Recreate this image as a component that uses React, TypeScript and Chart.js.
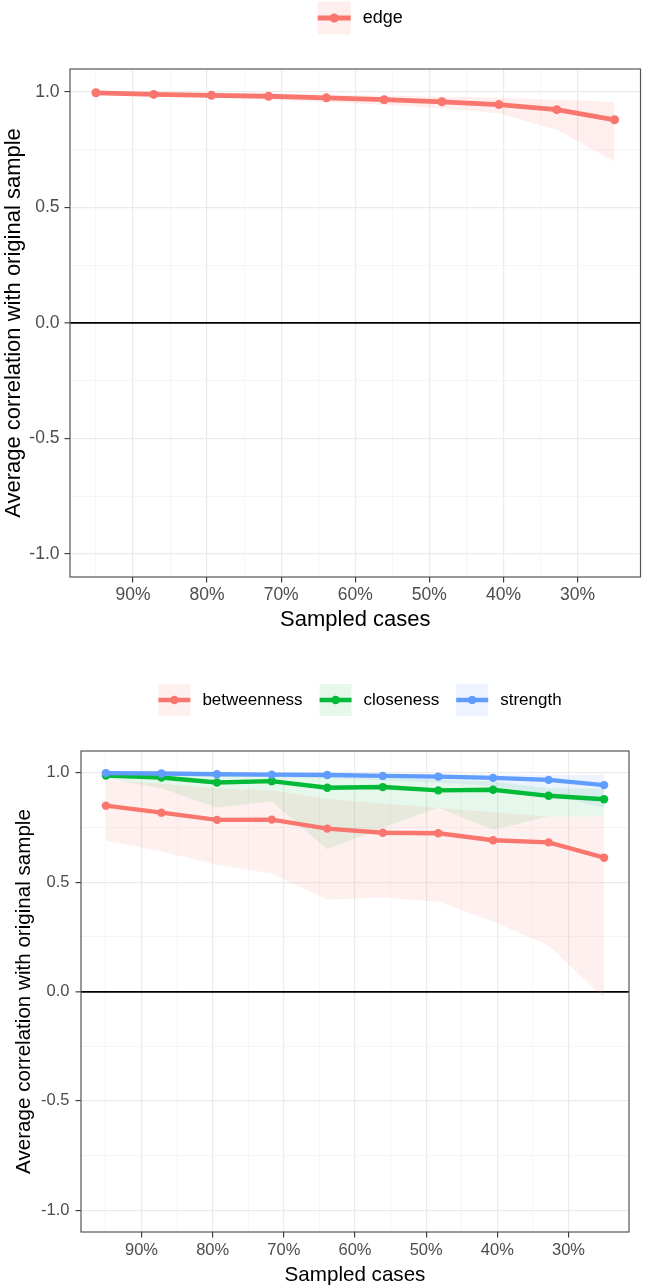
import React, { useEffect, useRef } from "react";
import { Chart, registerables } from "chart.js";

Chart.register(...registerables);

const FONT = "'Liberation Sans', Arial, Helvetica, sans-serif";
Chart.defaults.font.family = FONT;

// Share of cases kept in each subsample (%)
const SAMPLED = [95, 87.2, 79.4, 71.7, 63.9, 56.1, 48.3, 40.6, 32.8, 25];

// Axis breaks
const X_MAJOR = [30, 40, 50, 60, 70, 80, 90];
const X_MINOR = [35, 45, 55, 65, 75, 85, 95];
const Y_MAJOR = [-1, -0.5, 0, 0.5, 1];
const Y_MINOR = [-0.75, -0.25, 0.25, 0.75];

// Edge weights: mean correlation with the full sample and its band
const EDGE_MEAN = [0.997, 0.99, 0.986, 0.982, 0.975, 0.967, 0.958, 0.946, 0.924, 0.88];
const EDGE_LOW = [0.992, 0.982, 0.975, 0.968, 0.957, 0.945, 0.93, 0.908, 0.837, 0.699];
const EDGE_HIGH = [0.999, 0.996, 0.994, 0.992, 0.988, 0.984, 0.98, 0.975, 0.967, 0.957];

// Centrality indices
const BETW_MEAN = [0.85, 0.818, 0.785, 0.786, 0.745, 0.726, 0.724, 0.692, 0.682, 0.612];
const BETW_LOW = [0.69, 0.64, 0.58, 0.54, 0.42, 0.43, 0.41, 0.32, 0.21, -0.03];
const BETW_HIGH = [0.97, 0.95, 0.93, 0.92, 0.88, 0.86, 0.84, 0.82, 0.8, 0.8];

const CLOSE_MEAN = [0.988, 0.979, 0.956, 0.962, 0.932, 0.935, 0.92, 0.923, 0.895, 0.879];
const CLOSE_LOW = [0.975, 0.93, 0.84, 0.87, 0.65, 0.75, 0.84, 0.74, 0.8, 0.8];
const CLOSE_HIGH = [1.0, 0.995, 0.99, 0.99, 0.98, 0.975, 0.97, 0.96, 0.93, 0.93];

const STR_MEAN = [0.999, 0.997, 0.994, 0.992, 0.99, 0.986, 0.983, 0.977, 0.968, 0.944];
const STR_LOW = [0.997, 0.993, 0.985, 0.98, 0.975, 0.965, 0.955, 0.94, 0.9, 0.84];
const STR_HIGH = [1.0, 1.0, 0.999, 0.998, 0.997, 0.996, 0.995, 0.993, 0.99, 0.99];

const RED = "#F8766D";
const GREEN = "#00BA38";
const BLUE = "#619CFF";

type Series = {
  name: string;
  color: string;
  fill: string;
  mean: number[];
  low: number[];
  high: number[];
};

const EDGE_SERIES: Series[] = [
  { name: "edge", color: RED, fill: "rgba(248,118,109,0.12)", mean: EDGE_MEAN, low: EDGE_LOW, high: EDGE_HIGH },
];

const CENTRALITY_SERIES: Series[] = [
  { name: "betweenness", color: RED, fill: "rgba(248,118,109,0.11)", mean: BETW_MEAN, low: BETW_LOW, high: BETW_HIGH },
  { name: "closeness", color: GREEN, fill: "rgba(0,186,56,0.1)", mean: CLOSE_MEAN, low: CLOSE_LOW, high: CLOSE_HIGH },
  { name: "strength", color: BLUE, fill: "rgba(97,156,255,0.11)", mean: STR_MEAN, low: STR_LOW, high: STR_HIGH },
];

type Layout = {
  panelTop: number;
  padRight: number;
  yAxisWidth: number;
  xAxisHeight: number;
  tickSize: number;
  xTickPad: number;
  yTickPad: number;
  titleSize: number;
  xTitlePad: number;
  yTitlePad: number;
  legendY: number;
  legendSize: number;
  keySize: number;
  lineWidth: number;
  pointRadius: number;
};

const toPoints = (ys: number[]) => SAMPLED.map((x, i) => ({ x, y: ys[i] }));
const near = (list: number[], v: number) => list.some((m) => Math.abs(m - v) < 1e-9);

// ggplot-style legend: tinted key box with a line and a dot, then the label
const ggLegend = {
  id: "ggLegend",
  afterDraw(chart: any, _args: any, opts: any) {
    const { ctx, chartArea } = chart;
    const items: Series[] = opts.items || [];
    if (!items.length) return;
    const key = opts.keySize;
    const textGap = 12;
    const itemGap = 17;
    ctx.save();
    ctx.font = `${opts.fontSize}px ${FONT}`;
    const widths = items.map((it) => ctx.measureText(it.name).width);
    const total =
      widths.reduce((s, w) => s + key + textGap + w, 0) + itemGap * (items.length - 1);
    let x = (chartArea.left + chartArea.right) / 2 + 5 - total / 2;
    const cy = opts.y;
    items.forEach((it, i) => {
      ctx.fillStyle = it.fill;
      ctx.fillRect(x, cy - key / 2, key, key);
      ctx.strokeStyle = it.color;
      ctx.lineWidth = opts.lineWidth;
      ctx.beginPath();
      ctx.moveTo(x, cy);
      ctx.lineTo(x + key, cy);
      ctx.stroke();
      ctx.fillStyle = it.color;
      ctx.beginPath();
      ctx.arc(x + key / 2, cy, opts.radius, 0, Math.PI * 2);
      ctx.fill();
      ctx.fillStyle = "#000";
      ctx.textAlign = "left";
      ctx.textBaseline = "middle";
      ctx.fillText(it.name, x + key + textGap, cy);
      x += key + textGap + widths[i] + itemGap;
    });
    ctx.restore();
  },
};

// Frame around the plotting panel
const panelBorder = {
  id: "panelBorder",
  afterDatasetsDraw(chart: any) {
    const { ctx, chartArea: a } = chart;
    ctx.save();
    ctx.strokeStyle = "#555555";
    ctx.lineWidth = 1.2;
    ctx.strokeRect(a.left, a.top, a.right - a.left, a.bottom - a.top);
    ctx.restore();
  },
};

function buildConfig(series: Series[], L: Layout): any {
  const datasets: any[] = [];
  series.forEach((s) => {
    datasets.push({
      label: `${s.name} lower`,
      data: toPoints(s.low),
      borderWidth: 0,
      borderColor: "rgba(0,0,0,0)",
      pointRadius: 0,
      fill: false,
      order: 10,
    });
    datasets.push({
      label: `${s.name} upper`,
      data: toPoints(s.high),
      borderWidth: 0,
      borderColor: "rgba(0,0,0,0)",
      backgroundColor: s.fill,
      pointRadius: 0,
      fill: "-1",
      order: 10,
    });
  });
  series.forEach((s, i) => {
    datasets.push({
      label: s.name,
      data: toPoints(s.mean),
      borderColor: s.color,
      backgroundColor: s.color,
      pointBackgroundColor: s.color,
      borderWidth: L.lineWidth,
      pointRadius: L.pointRadius,
      pointBorderWidth: 0,
      pointHoverRadius: L.pointRadius,
      fill: false,
      tension: 0,
      order: series.length - i,
    });
  });

  const majorGrid = "#EBEBEB";
  const minorGrid = "#F4F4F4";
  const tickMark = "#333333";

  return {
    type: "line",
    data: { datasets },
    plugins: [ggLegend, panelBorder],
    options: {
      responsive: false,
      animation: false,
      events: [],
      layout: { padding: { top: L.panelTop, right: L.padRight, bottom: 0, left: 0 } },
      plugins: {
        legend: { display: false },
        tooltip: { enabled: false },
        ggLegend: {
          items: series,
          y: L.legendY,
          fontSize: L.legendSize,
          keySize: L.keySize,
          lineWidth: L.lineWidth,
          radius: L.pointRadius,
        },
      },
      scales: {
        x: {
          type: "linear",
          reverse: true,
          min: 21.5,
          max: 98.5,
          afterBuildTicks: (sc: any) => {
            sc.ticks = [...X_MAJOR, ...X_MINOR].sort((a, b) => a - b).map((v) => ({ value: v }));
          },
          afterFit: (sc: any) => {
            sc.height = L.xAxisHeight;
          },
          border: { display: false },
          grid: {
            color: (c: any) => (near(X_MAJOR, c.tick?.value) ? majorGrid : minorGrid),
            lineWidth: (c: any) => (near(X_MAJOR, c.tick?.value) ? 1.2 : 0.9),
            tickColor: (c: any) => (near(X_MAJOR, c.tick?.value) ? tickMark : "rgba(0,0,0,0)"),
            tickWidth: 1.1,
            tickLength: 5.5,
            drawTicks: true,
          },
          ticks: {
            autoSkip: false,
            maxRotation: 0,
            minRotation: 0,
            padding: L.xTickPad,
            color: "#4D4D4D",
            font: { size: L.tickSize, family: FONT },
            callback: (v: number) => (near(X_MAJOR, v) ? `${Math.round(v)}%` : ""),
          },
          title: {
            display: true,
            text: "Sampled cases",
            color: "#000",
            font: { size: L.titleSize, family: FONT, lineHeight: 1 },
            padding: { top: 0, bottom: L.xTitlePad },
          },
        },
        y: {
          type: "linear",
          min: -1.1,
          max: 1.1,
          afterBuildTicks: (sc: any) => {
            sc.ticks = [...Y_MAJOR, ...Y_MINOR].sort((a, b) => a - b).map((v) => ({ value: v }));
          },
          afterFit: (sc: any) => {
            sc.width = L.yAxisWidth;
          },
          border: { display: false },
          grid: {
            color: (c: any) => {
              const v = c.tick?.value;
              if (Math.abs(v) < 1e-9) return "#000000";
              return near(Y_MAJOR, v) ? majorGrid : minorGrid;
            },
            lineWidth: (c: any) => {
              const v = c.tick?.value;
              if (Math.abs(v) < 1e-9) return 1.7;
              return near(Y_MAJOR, v) ? 1.2 : 0.9;
            },
            tickColor: (c: any) => (near(Y_MAJOR, c.tick?.value) ? tickMark : "rgba(0,0,0,0)"),
            tickWidth: 1.1,
            tickLength: 5.5,
            drawTicks: true,
          },
          ticks: {
            autoSkip: false,
            padding: L.yTickPad,
            color: "#4D4D4D",
            font: { size: L.tickSize, family: FONT },
            callback: (v: number) => (near(Y_MAJOR, v) ? v.toFixed(1) : ""),
          },
          title: {
            display: true,
            text: "Average correlation with original sample",
            color: "#000",
            font: { size: L.titleSize, family: FONT, lineHeight: 1 },
            padding: { top: L.yTitlePad, bottom: 0 },
          },
        },
      },
    },
  };
}

const EDGE_LAYOUT: Layout = {
  panelTop: 69,
  padRight: 2,
  yAxisWidth: 70,
  xAxisHeight: 68,
  tickSize: 17.5,
  xTickPad: 2,
  yTickPad: 5,
  titleSize: 22,
  xTitlePad: 14,
  yTitlePad: 3,
  legendY: 18,
  legendSize: 18,
  keySize: 33,
  lineWidth: 4.8,
  pointRadius: 4.5,
};

const CENTRALITY_LAYOUT: Layout = {
  panelTop: 106,
  padRight: 16,
  yAxisWidth: 81,
  xAxisHeight: 55,
  tickSize: 16.5,
  xTickPad: 3.5,
  yTickPad: 6,
  titleSize: 20.6,
  xTitlePad: 1,
  yTitlePad: 14.5,
  legendY: 55,
  legendSize: 17,
  keySize: 32,
  lineWidth: 4.4,
  pointRadius: 4.2,
};

function StabilityPlot({ series, layout, height }: { series: Series[]; layout: Layout; height: number }) {
  const ref = useRef<HTMLCanvasElement | null>(null);
  useEffect(() => {
    if (!ref.current) return;
    const chart = new Chart(ref.current, buildConfig(series, layout));
    return () => chart.destroy();
  }, [series, layout]);
  return <canvas ref={ref} width={645} height={height} style={{ display: "block", width: 645, height }} />;
}

export default function App() {
  return (
    <div style={{ position: "absolute", left: 0, top: 0, width: 645, height: 1287, background: "#ffffff" }}>
      <StabilityPlot series={EDGE_SERIES} layout={EDGE_LAYOUT} height={645} />
      <StabilityPlot series={CENTRALITY_SERIES} layout={CENTRALITY_LAYOUT} height={642} />
    </div>
  );
}
